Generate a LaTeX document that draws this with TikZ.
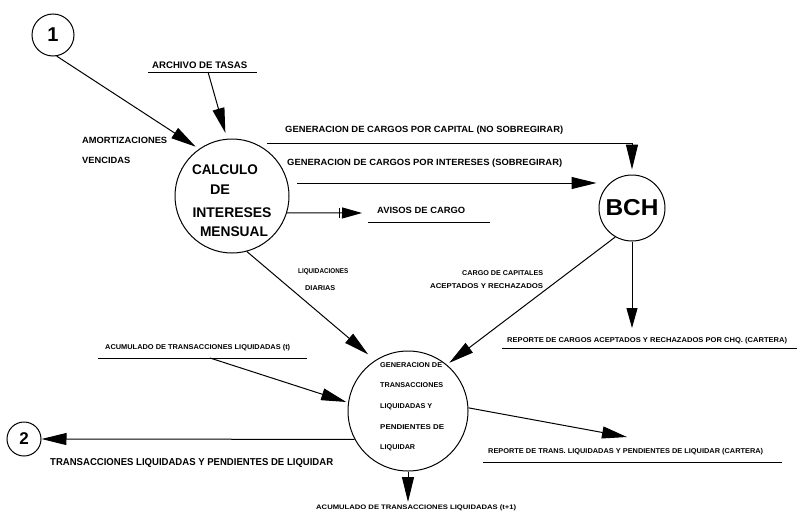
\documentclass[tikz,border=0pt]{standalone}
\usepackage{fontspec}
\setmainfont{Liberation Sans}
\usepackage{graphicx}
\usetikzlibrary{arrows.meta}
% label text: size, target width, text (height kept, width fitted)
\newcommand\lbl[3]{\resizebox{#2pt}{\height}{\fontsize{#1}{#1}\selectfont\bfseries #3}}
\begin{document}
\begin{tikzpicture}[x=1pt,y=-1pt,
  flow/.style={line width=1pt,-{Triangle[length=25pt,width=12pt]}},
  flowsmall/.style={line width=1pt,-{Triangle[length=20pt,width=11pt]}},
  plain/.style={line width=1pt},
  proc/.style={draw,circle,line width=1pt,inner sep=0pt},
  txt/.style={inner sep=0pt,anchor=west},
  ctr/.style={inner sep=0pt,anchor=center}]
\useasboundingbox (0,0) rectangle (797,522);

% processes and connectors' end circles
\node[proc,minimum size=42pt,font=\fontsize{20}{20}\selectfont\bfseries] (one) at (53,35) {1};
\node[proc,minimum size=114pt] (calc) at (232,196) {};
\node[proc,minimum size=66pt] (bch) at (632,208) {\resizebox{53pt}{\height}{\fontsize{23}{23}\selectfont\bfseries BCH}};
\node[proc,minimum size=120pt] (gen) at (408,411) {};
\node[proc,minimum size=34pt,font=\fontsize{17}{17}\selectfont\bfseries] (two) at (24,439) {2};

% text inside the process circles
\node[ctr] (c1) at (225,170) {\lbl{14}{66}{CALCULO}};
\node[ctr] (c2) at (220,190) {\lbl{14}{20}{DE}};
\node[ctr] (c3) at (232,213) {\lbl{14}{79}{INTERESES}};
\node[ctr] (c4) at (234,232) {\lbl{14}{68}{MENSUAL}};

\node[txt] (g1) at (380,365) {\lbl{7}{62}{GENERACION DE}};
\node[txt] (g2) at (380,385) {\lbl{7}{63}{TRANSACCIONES}};
\node[txt] (g3) at (380,407) {\lbl{7}{52}{LIQUIDADAS Y}};
\node[txt] (g4) at (380,427) {\lbl{7}{64}{PENDIENTES DE}};
\node[txt] (g5) at (380,448) {\lbl{7}{35}{LIQUIDAR}};

% data stores and flow labels
\node[txt] (archivo) at (152,65) {\lbl{9.5}{95}{ARCHIVO DE TASAS}};
\coordinate (archL) at (148,72); \coordinate (archR) at (257,72);
\draw[plain] (archL) -- (archR);

\node[txt] (amort) at (82,140) {\lbl{9}{85}{AMORTIZACIONES}};
\node[txt] (venc) at (82,160) {\lbl{9}{48}{VENCIDAS}};

\node[txt] (capital) at (285,130) {\lbl{9}{278}{GENERACION DE CARGOS POR CAPITAL (NO SOBREGIRAR)}};
\node[txt] (inter) at (287,163) {\lbl{9}{275}{GENERACION DE CARGOS POR INTERESES (SOBREGIRAR)}};

\node[txt] (avisos) at (377,210) {\lbl{9}{88}{AVISOS DE CARGO}};
\coordinate (avL) at (368,222); \coordinate (avR) at (490,222);
\draw[plain] (avL) -- (avR);

\node[txt] (liq) at (298,272) {\lbl{7}{50}{LIQUIDACIONES}};
\node[txt] (diar) at (305,288) {\lbl{7}{30}{DIARIAS}};

\node[txt] (cargocap) at (462,273) {\lbl{7}{81}{CARGO DE CAPITALES}};
\node[txt] (acept) at (430,286) {\lbl{7}{113}{ACEPTADOS Y RECHAZADOS}};

\node[txt] (repcar) at (507,341) {\lbl{7}{280}{REPORTE DE CARGOS ACEPTADOS Y RECHAZADOS POR CHQ. (CARTERA)}};
\coordinate (rcL) at (502,348); \coordinate (rcR) at (797,348);
\draw[plain] (rcL) -- (rcR);

\node[txt] (acumt) at (105,348) {\lbl{7}{185}{ACUMULADO DE TRANSACCIONES LIQUIDADAS (t)}};
\coordinate (acL) at (98,358); \coordinate (acR) at (307,358);
\draw[plain] (acL) -- (acR);

\node[txt] (trans) at (50,463) {\lbl{10}{283}{TRANSACCIONES LIQUIDADAS Y PENDIENTES DE LIQUIDAR}};

\node[txt] (reptr) at (488,452) {\lbl{7}{275}{REPORTE DE TRANS. LIQUIDADAS Y PENDIENTES DE LIQUIDAR (CARTERA)}};
\coordinate (rtL) at (483,462); \coordinate (rtR) at (782,462);
\draw[plain] (rtL) -- (rtR);

\node[txt] (acumt1) at (316,508) {\lbl{6.5}{200}{ACUMULADO DE TRANSACCIONES LIQUIDADAS (t+1)}};

% flows
\draw[flow,shorten >=4pt] (one.-80) -- (calc.125);
\coordinate (arcFrom) at (208,72);
\draw[flow,shorten >=6pt] (arcFrom) -- (calc.95);

\coordinate (capFrom) at (267,143);
\draw[flow,shorten >=5pt] (capFrom) -| (bch.north);
\coordinate (intFrom) at (297,183);
\draw[flow,shorten >=2pt] (intFrom) -- (intFrom -| bch.west);

\coordinate (avTip) at (362,213);
\draw[flowsmall] (calc.-17) -- (avTip);
\coordinate (avBarT) at (339,208); \coordinate (avBarB) at (339,218);
\draw[plain] (avBarT) -- (avBarB);

\draw[flow,shorten >=9pt] (calc.-75) -- (gen.123);
\draw[flow,shorten >=3pt] (bch.-120) -- (gen.50);

\coordinate (bchDown) at (632,328);
\draw[flowsmall] (bch.south) -- (bchDown);

\coordinate (acFrom) at (210,358);
\draw[flow,shorten >=2pt] (acFrom) -- (gen.172);

\draw[flow] (gen.-152) -- (two.east);

\coordinate (rtTip) at (627,437);
\draw[flow] (gen.3) -- (rtTip);

\coordinate (dnTip) at (408,502);
\draw[flow] (gen.south) -- (dnTip);
\end{tikzpicture}
\end{document}
